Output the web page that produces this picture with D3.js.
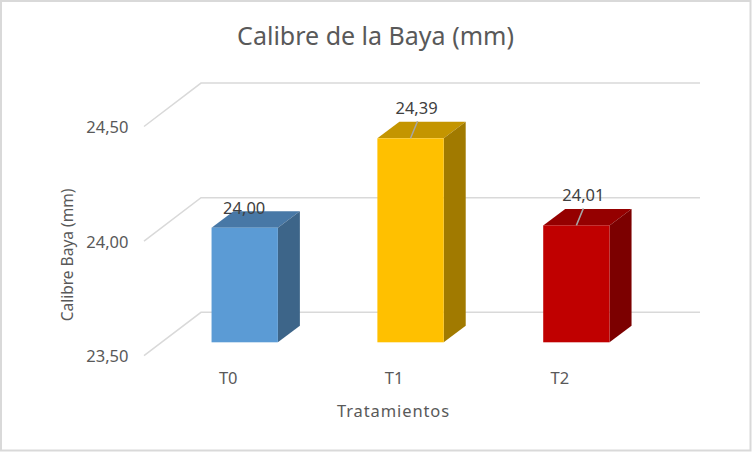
<!DOCTYPE html>
<html><head><meta charset="utf-8">
<script src="https://cdn.jsdelivr.net/npm/d3@7"></script>
<style>html,body{margin:0;padding:0;background:#fff}svg{display:block}text{font-family:"Noto Sans","Open Sans",sans-serif;fill:#595959}</style>
</head><body><svg id="c" width="752" height="452"></svg>
<script>
const categories=["T0","T1","T2"];
const values=[24.00,24.39,24.01];
const valueLabels=["24,00","24,39","24,01"];
const yTicks=[23.5,24.0,24.5];
const yTickLabels=["23,50","24,00","24,50"];
const frontColors=["#5b9bd5","#ffc000","#c00000"];
const topColors=["#4878a6","#c49500","#950000"];
const sideColors=["#3d6589","#a17a00","#7c0000"];
const svg=d3.select("#c");
svg.append("rect").attr("x",1).attr("y",1).attr("width",749.5).attr("height",449.5).attr("fill","#fff").attr("stroke","#d9d9d9").attr("stroke-width",2);
const y=d3.scaleLinear().domain([23.5,24.5]).range([342.3,113.1]);
const x=d3.scaleBand().domain(categories).range([161.8,659.3]).paddingInner(0.6).paddingOuter(0.3);
const depthX=22,depthY=16.5;
const g=svg.append("g");
yTicks.forEach((t,i)=>{
  const yy=y(t);
  g.append("path").attr("d",`M144,${yy+13.4}L201,${yy-30}L700,${yy-30}`).attr("fill","none").attr("stroke","#d9d9d9").attr("stroke-width",1.5);
  g.append("text").attr("x",128.5).attr("y",yy+13.4+6.5).attr("text-anchor","end").attr("font-size",16.5).text(yTickLabels[i]);
});
categories.forEach((c,i)=>{
  const x0=x(c),x1=x0+x.bandwidth(),yt=y(values[i]),yb=y(23.5);
  g.append("polygon").attr("points",[[x0,yt],[x1,yt],[x1+depthX,yt-depthY],[x0+depthX,yt-depthY]].join(" ")).attr("fill",topColors[i]);
  g.append("polygon").attr("points",[[x1,yt],[x1+depthX,yt-depthY],[x1+depthX,yb-depthY],[x1,yb]].join(" ")).attr("fill",sideColors[i]);
  g.append("rect").attr("x",x0).attr("y",yt).attr("width",x.bandwidth()).attr("height",yb-yt).attr("fill",frontColors[i]);
  const mid=(x0+x1)/2;
  if(i>0) g.append("line").attr("x1",mid).attr("y1",yt).attr("x2",mid+7).attr("y2",yt-17).attr("stroke","#a6a6a6").attr("stroke-width",1.5);
  g.append("text").attr("x",i===0?mid-0.5:(i===2?mid+7:mid+6)).attr("y",i===0?yt-14:yt-24).attr("text-anchor","middle").attr("font-size",16.5).style("fill","#404040").text(valueLabels[i]);
  g.append("text").attr("x",mid-16.5).attr("y",384).attr("text-anchor","middle").attr("font-size",16.5).text(c);
});
svg.append("text").attr("x",375.5).attr("y",45).attr("text-anchor","middle").attr("font-size",25).text("Calibre de la Baya (mm)");
svg.append("text").attr("x",393.5).attr("y",417).attr("text-anchor","middle").attr("font-size",16.5).attr("letter-spacing",0.9).text("Tratamientos");
svg.append("text").attr("transform","translate(72.5,255) rotate(-90)").attr("text-anchor","middle").attr("font-size",15.5).text("Calibre Baya (mm)");
</script></body></html>
